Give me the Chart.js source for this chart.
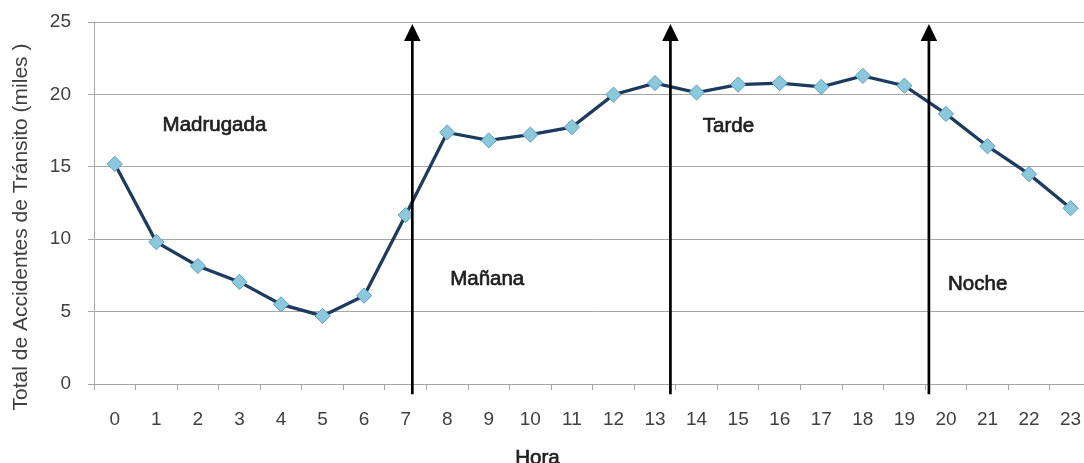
<!DOCTYPE html>
<html lang="es">
<head>
<meta charset="utf-8">
<title>Accidentes de tránsito por hora</title>
<script src="https://cdn.jsdelivr.net/npm/chart.js@4/dist/chart.umd.min.js"></script>
<style>
  html, body { margin: 0; padding: 0; background: #ffffff; overflow: hidden; }
  #wrap { width: 1100px; height: 463px; }
</style>
</head>
<body>
<div id="wrap"><canvas id="chart" width="1100" height="463"></canvas></div>
<script>
// Hora del día (eje X)
const hours = ['0','1','2','3','4','5','6','7','8','9','10','11','12','13','14','15','16','17','18','19','20','21','22','23'];

// Total de accidentes de tránsito por hora, en miles
const accidents = [15.2, 9.8, 8.15, 7.05, 5.5, 4.7, 6.1, 11.67, 17.37, 16.82, 17.22, 17.74,
                   19.98, 20.78, 20.13, 20.68, 20.78, 20.52, 21.28, 20.6, 18.65, 16.42, 14.49, 12.14];

// Ticks del eje Y
const yTicks = [0, 5, 10, 15, 20, 25];

// Franjas del día: nombre, posición del rótulo (hora, valor) y límites marcados con flechas
const periodNames = ['Madrugada', 'Mañana', 'Tarde', 'Noche'];
const periodLabelHour = [1.15, 8.07, 14.15, 20.05];
const periodLabelValue = [17.49, 6.84, 17.4, 6.49];
const periodBoundaries = [7.16, 13.37, 19.59];
const arrowTopValue = 24.86;
const arrowBottomValue = -0.7;

const FONT = "'Liberation Sans', Arial, sans-serif";
const GRID = '#a6a6a6';
const TEXT = '#404040';
const LABEL = '#1e1e1e';

// Texto algo más grueso para los rótulos de las franjas
function heavyText(ctx, text, x, y) {
  ctx.lineWidth = 0.7;
  ctx.strokeStyle = LABEL;
  ctx.fillStyle = LABEL;
  ctx.strokeText(text, x, y);
  ctx.fillText(text, x, y);
}

// Flechas verticales que separan las franjas y rótulos de cada franja
const periodPlugin = {
  id: 'periods',
  afterDatasetsDraw(chart) {
    const { ctx, scales: { x, y } } = chart;
    ctx.save();
    ctx.strokeStyle = '#000000';
    ctx.fillStyle = '#000000';
    ctx.lineWidth = 2.7;
    periodBoundaries.forEach(h => {
      const px = x.getPixelForValue(h);
      const top = y.getPixelForValue(arrowTopValue);
      const bottom = y.getPixelForValue(arrowBottomValue);
      const headH = 17, headW = 16.5;
      ctx.beginPath();
      ctx.moveTo(px, bottom);
      ctx.lineTo(px, top + headH - 1);
      ctx.stroke();
      ctx.beginPath();
      ctx.moveTo(px, top);
      ctx.lineTo(px - headW / 2, top + headH);
      ctx.lineTo(px + headW / 2, top + headH);
      ctx.closePath();
      ctx.fill();
    });

    ctx.font = '20.5px ' + FONT;
    ctx.textAlign = 'left';
    ctx.textBaseline = 'alphabetic';
    periodNames.forEach((name, i) => {
      heavyText(ctx, name, x.getPixelForValue(periodLabelHour[i]), y.getPixelForValue(periodLabelValue[i]));
    });
    ctx.restore();
  },
  afterDraw(chart) {
    const { ctx } = chart;
    ctx.save();
    // Título del eje Y
    ctx.fillStyle = TEXT;
    ctx.font = '21px ' + FONT;
    ctx.textAlign = 'center';
    ctx.textBaseline = 'middle';
    ctx.translate(21, 227);
    ctx.rotate(-Math.PI / 2);
    ctx.fillText('Total de Accidentes de Tránsito (miles )', 0, 0);
    ctx.restore();

    // Título del eje X
    ctx.save();
    ctx.font = '20.5px ' + FONT;
    ctx.textAlign = 'center';
    ctx.textBaseline = 'alphabetic';
    heavyText(ctx, 'Hora', 537.5, 464);
    ctx.restore();
  }
};

new Chart(document.getElementById('chart'), {
  type: 'line',
  data: {
    labels: hours,
    datasets: [{
      data: accidents,
      borderColor: '#1d3a5f',
      borderWidth: 3.3,
      tension: 0,
      pointStyle: 'rectRot',
      pointRadius: 7.6,
      pointHoverRadius: 7.6,
      pointBackgroundColor: '#8cc8dc',
      pointBorderColor: '#5e9fc2',
      pointBorderWidth: 1
    }]
  },
  options: {
    responsive: false,
    animation: false,
    events: [],
    layout: { padding: { top: 22, right: 8, left: 0, bottom: 0 } },
    plugins: {
      legend: { display: false },
      tooltip: { enabled: false },
      title: { display: false }
    },
    scales: {
      x: {
        type: 'category',
        offset: true,
        grid: {
          offset: true,
          drawOnChartArea: false,
          drawTicks: true,
          tickLength: 6,
          color: GRID,
          lineWidth: 1
        },
        border: { color: GRID, width: 1 },
        ticks: {
          color: TEXT,
          font: { family: FONT, size: 19 },
          padding: 18,
          maxRotation: 0,
          autoSkip: false
        },
        afterFit(scale) {
          scale.height = 79;
          scale.paddingLeft = 0;
          scale.paddingRight = 0;
        }
      },
      y: {
        min: 0,
        max: 25,
        afterBuildTicks(scale) { scale.ticks = yTicks.map(v => ({ value: v })); },
        grid: {
          color: GRID,
          lineWidth: 1,
          drawTicks: true,
          tickLength: 6
        },
        border: { color: GRID, width: 1 },
        ticks: {
          color: TEXT,
          font: { family: FONT, size: 19 },
          padding: 17
        },
        afterFit(scale) {
          scale.width = 94;
          scale.paddingTop = 0;
          scale.paddingBottom = 0;
        }
      }
    }
  },
  plugins: [periodPlugin]
});
</script>
</body>
</html>
